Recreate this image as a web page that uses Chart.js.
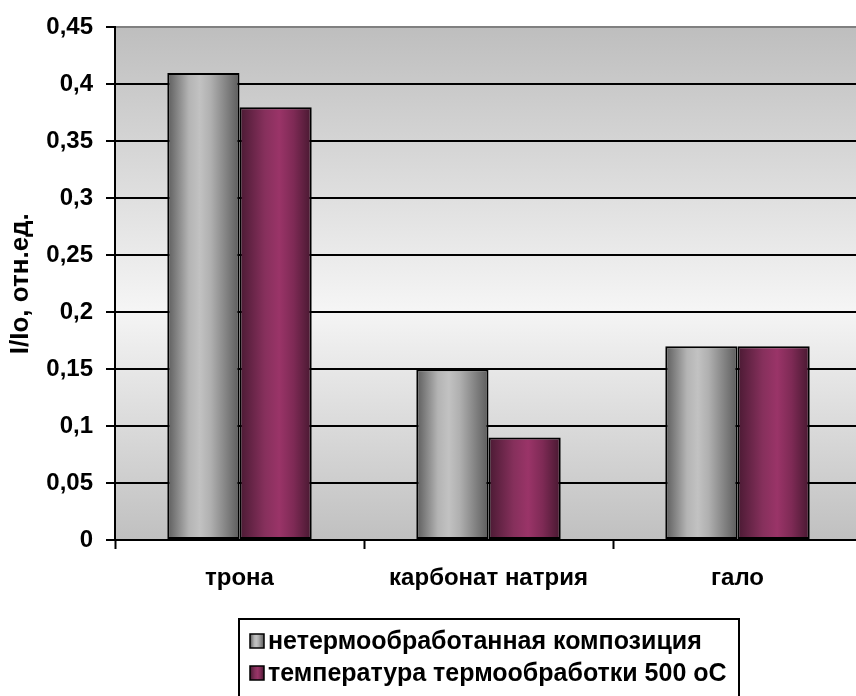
<!DOCTYPE html>
<html>
<head>
<meta charset="utf-8">
<script src="https://cdn.jsdelivr.net/npm/chart.js@4.4.1/dist/chart.umd.min.js"></script>
<style>
  html, body { margin: 0; padding: 0; background: #fff; overflow: hidden; }
  canvas { display: block; }
</style>
</head>
<body>
<canvas id="chart" width="866" height="696" style="width:866px;height:696px"></canvas>
<script>
// Data
const categories = ['трона', 'карбонат натрия', 'гало'];
const seriesNames = ['нетермообработанная композиция', 'температура термообработки 500 оС'];
const untreated = [0.41, 0.15, 0.17];
const treated500 = [0.38, 0.09, 0.17];
const yTickValues = [0, 0.05, 0.1, 0.15, 0.2, 0.25, 0.3, 0.35, 0.4, 0.45];
const yTitle = 'I/Io, отн.ед.';

const FONT = "'Liberation Sans', Arial, sans-serif";

// cylinder-like shading for each series (left -> right)
const barStops = [
  [[0, '#5c5c5c'], [0.3, '#b4b4b4'], [0.45, '#c2c2c2'], [0.6, '#b0b0b0'], [1, '#5c5c5c']],
  [[0, '#4a1a33'], [0.35, '#86305c'], [0.55, '#9a3468'], [0.75, '#7e2a55'], [1, '#471830']]
];

function hGradient(ctx, x0, x1, stops) {
  const g = ctx.createLinearGradient(x0, 0, x1, 0);
  stops.forEach(s => g.addColorStop(s[0], s[1]));
  return g;
}

function fmt(v) {
  return String(parseFloat(v.toFixed(2))).replace('.', ',');
}

// plot area background: grey at top and bottom, near white just below the middle
const plotBackground = {
  id: 'plotBackground',
  beforeDraw(chart) {
    const { ctx, chartArea: a } = chart;
    const g = ctx.createLinearGradient(0, a.top, 0, a.bottom);
    g.addColorStop(0, '#bebebe');
    g.addColorStop(0.55, '#f5f5f5');
    g.addColorStop(1, '#c0c0c0');
    ctx.save();
    ctx.fillStyle = g;
    ctx.fillRect(a.left, a.top, a.right - a.left, a.bottom - a.top);
    ctx.restore();
  }
};

// give every bar its own horizontal gradient
const barShading = {
  id: 'barShading',
  beforeDatasetsDraw(chart) {
    const ctx = chart.ctx;
    chart.data.datasets.forEach((ds, di) => {
      chart.getDatasetMeta(di).data.forEach(el => {
        const x0 = el.x - el.width / 2;
        const x1 = el.x + el.width / 2;
        el.options = Object.assign({}, el.options, {
          backgroundColor: hGradient(ctx, x0, x1, barStops[di])
        });
      });
    });
  }
};

// boxed legend under the axis labels
const boxLegend = {
  id: 'boxLegend',
  afterDraw(chart) {
    const ctx = chart.ctx;
    const left = 239, top = 619, width = 500, height = 100;
    ctx.save();
    ctx.lineWidth = 2;
    ctx.strokeStyle = '#000';
    ctx.strokeRect(left, top, width, height);
    ctx.font = 'bold 25px ' + FONT;
    ctx.textBaseline = 'middle';
    ctx.fillStyle = '#000';
    chart.data.datasets.forEach((ds, i) => {
      const cy = 641 + i * 32;
      const bx = 250, by = cy - 7, bs = 14;
      ctx.fillStyle = hGradient(ctx, bx, bx + bs, barStops[i]);
      ctx.fillRect(bx, by, bs, bs);
      ctx.lineWidth = 1.5;
      ctx.strokeRect(bx, by, bs, bs);
      ctx.fillStyle = '#000';
      ctx.fillText(ds.label, 268, cy + 1);
    });
    ctx.restore();
  }
};

new Chart(document.getElementById('chart'), {
  type: 'bar',
  data: {
    labels: categories,
    datasets: [
      {
        label: seriesNames[0],
        data: untreated,
        backgroundColor: '#a0a0a0',
        borderColor: '#000',
        borderWidth: 2,
        borderSkipped: false,
        categoryPercentage: 0.58,
        barPercentage: 1.0
      },
      {
        label: seriesNames[1],
        data: treated500,
        backgroundColor: '#993366',
        borderColor: '#000',
        borderWidth: 2,
        borderSkipped: false,
        categoryPercentage: 0.58,
        barPercentage: 1.0
      }
    ]
  },
  options: {
    responsive: false,
    animation: false,
    devicePixelRatio: 1,
    layout: { padding: { top: 22, right: 4, left: 0, bottom: 0 } },
    plugins: {
      legend: { display: false },
      tooltip: { enabled: false }
    },
    scales: {
      x: {
        offset: true,
        grid: {
          offset: true,
          drawOnChartArea: false,
          drawTicks: true,
          tickLength: 9,
          tickColor: '#000',
          tickWidth: 2
        },
        border: { color: '#000', width: 2 },
        ticks: {
          color: '#000',
          padding: 15,
          maxRotation: 0,
          font: { family: FONT, size: 24, weight: 'bold' }
        },
        afterFit(scale) { scale.height = 156; }
      },
      y: {
        min: 0,
        max: 0.45,
        afterBuildTicks(scale) {
          scale.ticks = yTickValues.map(v => ({ value: v }));
        },
        grid: {
          color: ctx => (ctx.tick && ctx.tick.value === 0.45 ? '#808080' : '#000'),
          lineWidth: 2,
          tickLength: 9,
          tickColor: '#000',
          tickWidth: 2
        },
        border: { color: '#000', width: 2 },
        ticks: {
          color: '#000',
          padding: 13,
          font: { family: FONT, size: 24, weight: 'bold' },
          callback: v => fmt(v)
        },
        title: {
          display: true,
          text: yTitle,
          color: '#000',
          padding: { top: 5, bottom: 0 },
          font: { family: FONT, size: 26, weight: 'bold' }
        },
        afterFit(scale) { scale.width = 115; }
      }
    }
  },
  plugins: [plotBackground, barShading, boxLegend]
});
</script>
</body>
</html>
